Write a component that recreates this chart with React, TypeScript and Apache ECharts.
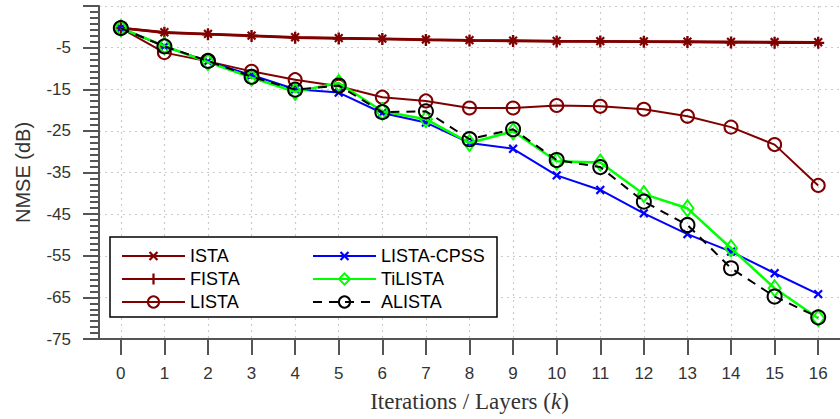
import React, { useEffect, useRef } from "react";
import * as echarts from "echarts";

const layers = ["0", "1", "2", "3", "4", "5", "6", "7", "8", "9", "10", "11", "12", "13", "14", "15", "16"];

const ista = [-0.3, -1.3, -1.7, -2.1, -2.5, -2.7, -2.85, -3.05, -3.2, -3.3, -3.4, -3.45, -3.5, -3.55, -3.6, -3.65, -3.7];
const fista = [-0.3, -1.4, -1.8, -2.2, -2.6, -2.8, -2.95, -3.15, -3.3, -3.4, -3.5, -3.55, -3.6, -3.65, -3.75, -3.8, -3.85];
const lista = [-0.3, -6.2, -8.3, -10.7, -12.7, -14.3, -16.9, -17.8, -19.5, -19.5, -18.9, -19.1, -19.8, -21.5, -24.1, -28.3, -38.1];
const listaCpss = [-0.3, -4.7, -8.3, -11.6, -15.0, -15.8, -20.7, -23.0, -27.9, -29.3, -35.7, -39.2, -44.8, -49.8, -54.0, -59.2, -64.2];
const tilista = [-0.3, -4.6, -8.5, -12.2, -15.6, -13.5, -20.3, -22.2, -27.9, -25.1, -32.3, -32.6, -40.2, -43.6, -53.2, -62.8, -70.0];
const alista = [-0.3, -4.7, -8.2, -12.0, -15.1, -14.1, -20.5, -20.3, -27.0, -24.6, -32.0, -33.7, -42.0, -47.6, -58.0, -64.8, -69.8];

const DARK_RED = "#800000";
const PLUS = "path://M4,0H6V4H10V6H6V10H4V6H0V4H4Z";
const SANS = "'Liberation Sans', Arial, Helvetica, sans-serif";
const SERIF = "'Liberation Serif', 'DejaVu Serif', serif";
const CLEAR = "rgba(255,255,255,0)";

export default function App() {
  const ref = useRef<HTMLDivElement>(null);
  useEffect(() => {
    const chart = echarts.init(ref.current!, null, { renderer: "svg" });
    const common = { silent: true, emphasis: { disabled: true }, animation: false };
    chart.setOption({
      animation: false,
      backgroundColor: "#ffffff",
      grid: { left: 99, top: 6, width: 747, height: 333, containLabel: false },
      xAxis: {
        type: "category",
        data: layers,
        boundaryGap: true,
        name: "{a|Iterations / Layers (}{k|k}{a|)}",
        nameLocation: "middle",
        nameGap: 51,
        nameTextStyle: {
          rich: {
            a: { fontFamily: SERIF, fontSize: 23, color: "#333" },
            k: { fontFamily: SERIF, fontSize: 23, fontStyle: "italic", color: "#333" },
          },
        },
        axisLine: { show: true, onZero: false, lineStyle: { color: "#555", width: 2 } },
        axisTick: { show: true, alignWithLabel: true, length: 16, lineStyle: { color: "#555", width: 2 } },
        axisLabel: { margin: 26, fontSize: 17, color: "#333", fontFamily: SANS, interval: 0 },
        splitLine: { show: true, alignWithLabel: true, interval: 0, lineStyle: { color: "#cccccc", type: [2, 4], width: 1.2 } },
      },
      yAxis: {
        type: "value",
        min: -75,
        max: 5,
        interval: 10,
        name: "NMSE (dB)",
        nameLocation: "middle",
        nameGap: 66,
        nameTextStyle: { fontFamily: SANS, fontSize: 20, color: "#333" },
        axisLine: { show: true, lineStyle: { color: "#555", width: 2 } },
        axisTick: { show: true, length: 16, lineStyle: { color: "#555", width: 2 } },
        minorTick: { show: true, splitNumber: 7, length: 9, lineStyle: { color: "#555", width: 2 } },
        axisLabel: { margin: 28, fontSize: 17, color: "#333", fontFamily: SANS, showMaxLabel: false },
        splitLine: { show: true, lineStyle: { color: "#cccccc", type: [2, 4], width: 1.2 } },
      },
      graphic: {
        elements: [
          {
            type: "rect",
            z: 3,
            shape: { x: 110, y: 237, width: 387, height: 80 },
            style: { fill: "#ffffff", stroke: "#000000", lineWidth: 1.5 },
          },
        ],
      },
      legend: [
        {
          data: ["ISTA", "FISTA", "LISTA"],
          orient: "vertical",
          left: 116,
          top: 242,
          itemWidth: 63,
          itemHeight: 14,
          itemGap: 5,
          z: 10,
          selectedMode: false,
          textStyle: { fontSize: 18, color: "#000", fontFamily: SANS },
        },
        {
          data: ["LISTA-CPSS", "TiLISTA", "ALISTA"],
          orient: "vertical",
          left: 307,
          top: 242,
          itemWidth: 63,
          itemHeight: 14,
          itemGap: 5,
          z: 10,
          selectedMode: false,
          textStyle: { fontSize: 18, color: "#000", fontFamily: SANS },
        },
      ],
      series: [
        {
          ...common,
          name: "ISTA",
          type: "line",
          data: ista,
          z: 3,
          color: DARK_RED,
          lineStyle: { color: DARK_RED, width: 2.5 },
          symbol: PLUS,
          symbolRotate: 45,
          symbolSize: 11,
          itemStyle: { color: DARK_RED },
        },
        {
          ...common,
          name: "FISTA",
          type: "line",
          data: fista,
          z: 3,
          color: DARK_RED,
          lineStyle: { color: DARK_RED, width: 2.5 },
          symbol: PLUS,
          symbolSize: 12,
          itemStyle: { color: DARK_RED },
        },
        {
          ...common,
          name: "LISTA",
          type: "line",
          data: lista,
          z: 3,
          color: DARK_RED,
          lineStyle: { color: DARK_RED, width: 2 },
          symbol: "circle",
          symbolSize: 13,
          itemStyle: { color: CLEAR, borderColor: DARK_RED, borderWidth: 2 },
        },
        {
          ...common,
          name: "LISTA-CPSS",
          type: "line",
          data: listaCpss,
          z: 4,
          color: "#0000ff",
          lineStyle: { color: "#0000ff", width: 2 },
          symbol: PLUS,
          symbolRotate: 45,
          symbolSize: 11,
          itemStyle: { color: "#0000ff" },
        },
        {
          ...common,
          name: "TiLISTA",
          type: "line",
          data: tilista,
          z: 5,
          color: "#00ff00",
          lineStyle: { color: "#00ff00", width: 2.5 },
          symbol: "diamond",
          symbolSize: [12, 16],
          itemStyle: { color: CLEAR, borderColor: "#00ff00", borderWidth: 2 },
        },
        {
          ...common,
          name: "ALISTA",
          type: "line",
          data: alista,
          z: 6,
          color: "#000000",
          lineStyle: { color: "#000000", width: 2, type: [9, 7] },
          symbol: "circle",
          symbolSize: 14,
          itemStyle: { color: CLEAR, borderColor: "#000000", borderWidth: 2 },
        },
      ],
    });
    return () => chart.dispose();
  }, []);
  return (
    <div
      ref={ref}
      style={{ position: "absolute", left: 0, top: 0, width: 840, height: 419, overflow: "hidden" }}
    />
  );
}
